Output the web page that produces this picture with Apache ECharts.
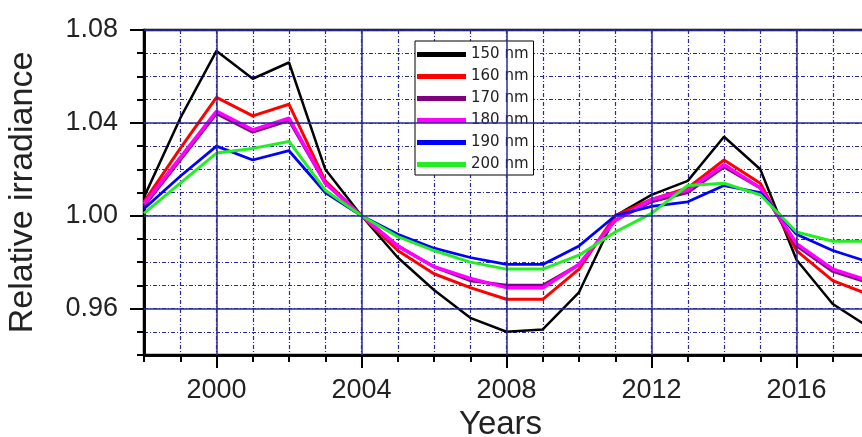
<!DOCTYPE html>
<html>
<head>
<meta charset="utf-8">
<script src="https://cdn.jsdelivr.net/npm/echarts@6/dist/echarts.min.js"></script>
<style>
  html, body { margin: 0; background: #fff; }
  #chart { width: 862px; height: 437px; }
</style>
</head>
<body>
<div id="chart"></div>
<script>
// years on the x axis
const years = [1998, 1999, 2000, 2001, 2002, 2003, 2004, 2005, 2006, 2007, 2008,
  2009, 2010, 2011, 2012, 2013, 2014, 2015, 2016, 2017, 2018];

// relative irradiance per wavelength
const nm150 = [1.008, 1.042, 1.071, 1.059, 1.066, 1.020, 1.000, 0.982, 0.968, 0.956, 0.950,
  0.951, 0.967, 1.000, 1.009, 1.015, 1.034, 1.020, 0.981, 0.962, 0.952];
const nm160 = [1.006, 1.029, 1.051, 1.043, 1.048, 1.015, 1.000, 0.985, 0.975, 0.969, 0.964,
  0.964, 0.977, 1.000, 1.007, 1.012, 1.024, 1.014, 0.985, 0.972, 0.966];
const nm170 = [1.004, 1.024, 1.044, 1.036, 1.041, 1.014, 1.000, 0.987, 0.978, 0.972, 0.970,
  0.970, 0.979, 0.998, 1.006, 1.010, 1.021, 1.012, 0.987, 0.976, 0.971];
const nm180 = [1.005, 1.025, 1.045, 1.037, 1.042, 1.014, 1.000, 0.987, 0.978, 0.973, 0.969,
  0.969, 0.979, 0.998, 1.007, 1.011, 1.022, 1.012, 0.988, 0.977, 0.972];
const nm190 = [1.003, 1.017, 1.030, 1.024, 1.028, 1.010, 1.000, 0.992, 0.986, 0.982, 0.979,
  0.979, 0.987, 1.000, 1.004, 1.006, 1.013, 1.010, 0.992, 0.985, 0.980];
const nm200 = [1.001, 1.014, 1.027, 1.029, 1.032, 1.011, 1.000, 0.991, 0.985, 0.980, 0.977,
  0.977, 0.983, 0.993, 1.001, 1.013, 1.014, 1.009, 0.993, 0.989, 0.989];

// labelled ticks
const majorYears = [2000, 2004, 2008, 2012, 2016];
const majorLevels = [0.96, 1.00, 1.04, 1.08];

const seriesNames = ['150 nm', '160 nm', '170 nm', '180 nm', '190 nm', '200 nm'];
const seriesValues = [nm150, nm160, nm170, nm180, nm190, nm200];
const seriesColors = ['#000000', '#ff0000', '#800080', '#ff00ff', '#0000ff', '#22ee22'];
const seriesWidths = [2.5, 3, 3, 3.5, 2.8, 3];

const gridBlue = '#2a2a9c';
const fontFam = '"Liberation Sans", Arial, sans-serif';

const chart = echarts.init(document.getElementById('chart'));

const lines = seriesNames.map((name, k) => ({
  name: name,
  type: 'line',
  xAxisIndex: 0,
  yAxisIndex: 0,
  symbol: 'none',
  z: 3,
  color: seriesColors[k],
  lineStyle: { color: seriesColors[k], width: seriesWidths[k] },
  data: years.map((y, i) => [y, seriesValues[k][i]])
}));

// solid grid lines at the labelled ticks
const majorGrid = {
  name: 'grid',
  type: 'line',
  data: [],
  z: 1,
  markLine: {
    silent: true,
    symbol: 'none',
    label: { show: false },
    lineStyle: { color: gridBlue, width: 1.5, type: 'solid' },
    data: majorYears.map(x => ({ xAxis: x })).concat(majorLevels.map(v => ({ yAxis: v })))
  }
};

chart.setOption({
  backgroundColor: '#fff',
  animation: false,
  grid: {
    left: 144, top: 30, bottom: 82, right: -7,
    outerBoundsMode: 'none', containLabel: false,
    show: true, borderColor: '#000', borderWidth: 2.5
  },
  legend: {
    data: seriesNames,
    orient: 'vertical',
    left: 415, top: 41,
    icon: 'rect',
    itemWidth: 49, itemHeight: 5, itemGap: 7,
    padding: [6, 5, 3, 2],
    backgroundColor: '#fff',
    borderColor: '#000', borderWidth: 1,
    textStyle: { fontSize: 15, lineHeight: 14, color: '#222', fontFamily: '"DejaVu Sans", sans-serif' }
  },
  xAxis: [
    {
      type: 'value', min: 1998, max: 2018, interval: 1,
      axisLine: { lineStyle: { color: '#000', width: 2.5 } },
      axisTick: { length: 7, lineStyle: { color: '#000', width: 2 } },
      axisLabel: { show: false },
      splitLine: { lineStyle: { color: gridBlue, width: 1.2, type: [4, 2, 1, 2] } }
    },
    {
      type: 'value', min: 1998, max: 2018, position: 'bottom',
      name: 'Years', nameLocation: 'middle', nameGap: 52,
      nameTextStyle: { fontSize: 33, color: '#222', fontFamily: fontFam, padding: [0, 12, 0, 0] },
      axisLine: { lineStyle: { color: '#000', width: 2.5 } },
      axisTick: { length: 13, customValues: majorYears, lineStyle: { color: '#000', width: 2 } },
      axisLabel: {
        customValues: majorYears, margin: 22, fontSize: 27, color: '#222', fontFamily: fontFam,
        formatter: v => String(v)
      },
      splitLine: { show: false }
    }
  ],
  yAxis: [
    {
      type: 'value', min: 0.94, max: 1.08, interval: 0.01,
      axisLine: { show: true, lineStyle: { color: '#000', width: 2.5 } },
      axisTick: { show: true, length: 7, lineStyle: { color: '#000', width: 2 } },
      axisLabel: { show: false },
      splitLine: { lineStyle: { color: gridBlue, width: 1.2, type: [4, 2, 1, 2] } }
    },
    {
      type: 'value', min: 0.94, max: 1.08, position: 'left',
      name: 'Relative irradiance', nameLocation: 'middle', nameGap: 104,
      nameTextStyle: { fontSize: 34, color: '#222', fontFamily: fontFam },
      axisLine: { show: true, lineStyle: { color: '#000', width: 2.5 } },
      axisTick: { show: true, length: 14, customValues: majorLevels, lineStyle: { color: '#000', width: 2 } },
      axisLabel: {
        customValues: majorLevels, margin: 26, fontSize: 27, color: '#222', fontFamily: fontFam,
        formatter: v => v.toFixed(2)
      },
      splitLine: { show: false }
    }
  ],
  series: [majorGrid].concat(lines)
});
</script>
</body>
</html>
